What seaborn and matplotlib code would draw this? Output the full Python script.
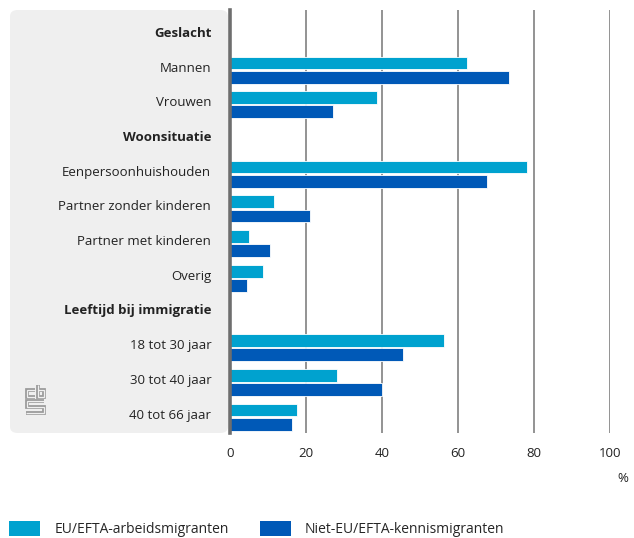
import matplotlib
matplotlib.use("Agg")
import matplotlib.pyplot as plt
from matplotlib.patches import FancyBboxPatch, Patch
from matplotlib.lines import Line2D
from matplotlib.transforms import ScaledTranslation
import seaborn as sns
import pandas as pd
import numpy as np

categories = ["Geslacht", "Mannen", "Vrouwen", "Woonsituatie", "Eenpersoonhuishouden",
              "Partner zonder kinderen", "Partner met kinderen", "Overig",
              "Leeftijd bij immigratie", "18 tot 30 jaar", "30 tot 40 jaar", "40 tot 66 jaar"]
headers = ["Geslacht", "Woonsituatie", "Leeftijd bij immigratie"]
series_names = ["EU/EFTA-arbeidsmigranten", "Niet-EU/EFTA-kennismigranten"]
eu_values = [np.nan, 62.3, 38.7, np.nan, 78.2, 11.5, 5.0, 8.8, np.nan, 56.4, 28.2, 17.7]
niet_values = [np.nan, 73.4, 27.2, np.nan, 67.5, 21.0, 10.5, 4.6, np.nan, 45.5, 40.0, 16.4]
x_ticks = [0, 20, 40, 60, 80, 100]
colors = ["#00a2cf", "#0059b7"]

df = pd.concat([
    pd.DataFrame({"cat": categories, "value": eu_values, "groep": series_names[0]}),
    pd.DataFrame({"cat": categories, "value": niet_values, "groep": series_names[1]}),
], ignore_index=True)

sns.set_style("white")
plt.rcParams["font.family"] = ["Open Sans", "DejaVu Sans"]

fig = plt.figure(figsize=(6.34, 5.38), dpi=100)
W, H = 634, 538
ax = fig.add_axes([230 / W, 1 - 433 / H, (610 - 230) / W, (433 - 10) / H])
PANEL = "#efefef"

# grey label panel
panel = FancyBboxPatch((10 / W, 1 - 433 / H), (228 - 10) / W, (433 - 10) / H,
                       boxstyle="round,pad=0,rounding_size=0.012",
                       transform=fig.transFigure, facecolor=PANEL, edgecolor="none", zorder=-5)
fig.patches.append(panel)
ax.set_facecolor("none")

# simplified CBS logo (decoration)
def fig_line(pts, **kw):
    xs = [p[0] / W for p in pts]
    ys = [1 - p[1] / H for p in pts]
    fig.add_artist(Line2D(xs, ys, transform=fig.transFigure, solid_joinstyle="miter",
                          solid_capstyle="butt", **kw))

logo_paths = [
    [(35, 390), (27, 390), (27, 396.5), (35, 396.5)],
    [(37.5, 385), (37.5, 396.5), (43.5, 396.5), (43.5, 390), (37.5, 390)],
    [(44.5, 400.5), (27, 400.5), (27, 406.8), (43.5, 406.8), (43.5, 413), (26, 413)],
]
for p in logo_paths:
    fig_line(p, color="#9a9a9a", linewidth=2.7, zorder=-4)
    fig_line(p, color=PANEL, linewidth=0.9, zorder=-3)

sns.barplot(data=df, y="cat", x="value", hue="groep", order=categories,
            hue_order=series_names, palette=colors, saturation=1, orient="h",
            width=0.82, gap=0.1, edgecolor="white", linewidth=0.6, ax=ax,
            legend=False, zorder=3)

ax.set_xlim(0, 100)
ax.set_ylim(11.46, -0.73)
ax.set_xticks(x_ticks)
ax.set_xticklabels([str(t) for t in x_ticks], fontsize=9.5, color="#222222")
ax.set_xlabel("")
ax.set_ylabel("")
for t in x_ticks[1:]:
    ax.axvline(t, color="#8a8a8a", linewidth=1.3, zorder=1)
for s in ["top", "right", "bottom"]:
    ax.spines[s].set_visible(False)
ax.spines["left"].set_color("#6e6e6e")
ax.spines["left"].set_linewidth(2.6)
ax.spines["left"].set_zorder(4)
ax.tick_params(axis="both", length=0)
ax.tick_params(axis="y", pad=13.5)
ax.tick_params(axis="x", pad=10)
offset = ScaledTranslation(0, 3.5 / 100, fig.dpi_scale_trans)
for lab in ax.get_yticklabels():
    lab.set_fontsize(9.5)
    lab.set_color("#222222")
    lab.set_transform(lab.get_transform() + offset)
    if lab.get_text() in headers:
        lab.set_fontweight("bold")

fig.text(628 / W, 1 - 479 / H, "%", ha="right", va="center", fontsize=9.5, color="#222222")

handles = [Patch(facecolor=c, edgecolor="none") for c in colors]
fig.legend(handles, series_names, loc="lower left", bbox_to_anchor=(-0.003, -0.019), ncol=2,
           frameon=False, fontsize=10, handlelength=2.2, handleheight=1.3,
           columnspacing=2.25, handletextpad=1.05, borderpad=0.3)

fig.savefig("out.png", dpi=100)
